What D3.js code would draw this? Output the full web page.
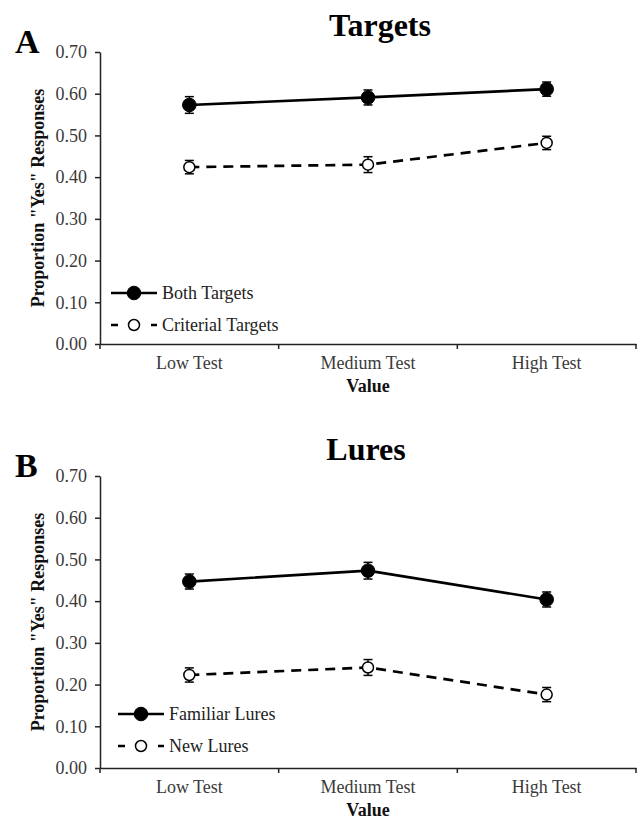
<!DOCTYPE html>
<html>
<head>
<meta charset="utf-8">
<script src="https://cdn.jsdelivr.net/npm/d3@7"></script>
<style>
  body { margin: 0; background: #fff; }
  svg { display: block; }
</style>
</head>
<body>
<div id="chart"></div>
<script>
const categories = ['Low Test', 'Medium Test', 'High Test'];
const yTicks = [0, 0.1, 0.2, 0.3, 0.4, 0.5, 0.6, 0.7];

// panel A
const bothTargets = [0.573, 0.591, 0.611];
const bothTargetsErr = [0.020, 0.018, 0.017];
const criterialTargets = [0.424, 0.430, 0.482];
const criterialTargetsErr = [0.016, 0.019, 0.016];

// panel B
const familiarLures = [0.447, 0.473, 0.404];
const familiarLuresErr = [0.018, 0.020, 0.018];
const newLures = [0.223, 0.241, 0.176];
const newLuresErr = [0.017, 0.019, 0.017];

const width = 643, height = 824;
const font = '"Liberation Serif", "Times New Roman", serif';

const svg = d3.select('#chart')
  .append('svg')
  .attr('width', width)
  .attr('height', height);

const x = d3.scaleBand()
  .domain(categories)
  .range([100, 636]);

const y = d3.scaleLinear()
  .domain([0, 0.7])
  .range([344, 52]);

function drawPanel(offsetY, letter, title, titleX, series) {
  const g = svg.append('g').attr('transform', `translate(0,${offsetY})`);

  // panel letter + title
  g.append('text')
    .text(letter)
    .attr('x', 15).attr('y', 53)
    .attr('font-family', font).attr('font-weight', 'bold')
    .attr('font-size', 34);

  g.append('text')
    .text(title)
    .attr('x', titleX).attr('y', 36)
    .attr('text-anchor', 'middle')
    .attr('font-family', font).attr('font-weight', 'bold')
    .attr('font-size', 32);

  // y axis
  const yAxis = g.append('g')
    .attr('transform', `translate(${x.range()[0]},0)`)
    .call(d3.axisLeft(y).tickValues(yTicks).tickFormat(d3.format('.2f')).tickSize(5).tickSizeOuter(0));
  yAxis.select('.domain').attr('stroke', '#222').attr('stroke-width', 1.5);
  yAxis.selectAll('.tick line').attr('stroke', '#222').attr('stroke-width', 1.5);
  yAxis.selectAll('.tick text')
    .attr('font-family', font).attr('font-size', 18).attr('fill', '#3a3a3a')
    .attr('x', -13);

  // x axis: labels at band centres, tick marks at band edges
  const xAxis = g.append('g')
    .attr('transform', `translate(0,${y(0)})`)
    .call(d3.axisBottom(x).tickSize(0).tickSizeOuter(0));
  xAxis.select('.domain').attr('stroke', '#222').attr('stroke-width', 1.5);
  xAxis.selectAll('.tick text')
    .attr('font-family', font).attr('font-size', 18).attr('fill', '#3a3a3a')
    .attr('y', 25).attr('dy', 0);

  const edges = categories.map(c => x(c)).concat([x.range()[1]]);
  xAxis.selectAll('.edge')
    .data(edges)
    .enter()
    .append('line')
    .attr('x1', d => d).attr('x2', d => d)
    .attr('y1', 0).attr('y2', 5)
    .attr('stroke', '#222').attr('stroke-width', 1.5);

  // axis titles
  g.append('text')
    .text('Proportion "Yes" Responses')
    .attr('transform', `translate(44,${(y(0) + y(0.7)) / 2}) rotate(-90)`)
    .attr('text-anchor', 'middle')
    .attr('font-family', font).attr('font-weight', 'bold')
    .attr('font-size', 18).attr('fill', '#111');

  g.append('text')
    .text('Value')
    .attr('x', 368).attr('y', y(0) + 48)
    .attr('text-anchor', 'middle')
    .attr('font-family', font).attr('font-weight', 'bold')
    .attr('font-size', 18).attr('fill', '#111');

  const cx = c => x(c) + x.bandwidth() / 2;

  series.forEach(s => {
    const pts = categories.map((c, i) => ({ c, v: s.values[i], e: s.err[i] }));

    // error bars
    const eb = g.append('g');
    eb.selectAll('line.v')
      .data(pts).enter().append('line')
      .attr('x1', d => cx(d.c)).attr('x2', d => cx(d.c))
      .attr('y1', d => y(d.v + d.e)).attr('y2', d => y(d.v - d.e))
      .attr('stroke', '#000').attr('stroke-width', 1.5);
    [1, -1].forEach(sign => {
      eb.selectAll(null)
        .data(pts).enter().append('line')
        .attr('x1', d => cx(d.c) - 4.5).attr('x2', d => cx(d.c) + 4.5)
        .attr('y1', d => y(d.v + sign * d.e)).attr('y2', d => y(d.v + sign * d.e))
        .attr('stroke', '#000').attr('stroke-width', 1.5);
    });

    const line = d3.line().x(d => cx(d.c)).y(d => y(d.v));
    g.append('path')
      .datum(pts)
      .attr('d', line)
      .attr('fill', 'none')
      .attr('stroke', '#000')
      .attr('stroke-width', 2.7)
      .attr('stroke-dasharray', s.dashed ? '10,7' : null);

    g.selectAll(null)
      .data(pts).enter().append('circle')
      .attr('cx', d => cx(d.c)).attr('cy', d => y(d.v))
      .attr('r', s.dashed ? 5.5 : 6.8)
      .attr('fill', s.dashed ? '#fff' : '#000')
      .attr('stroke', '#000').attr('stroke-width', s.dashed ? 1.5 : 1);

    // legend entry
    const lg = g.append('g').attr('transform', `translate(${s.legendX},${s.legendY})`);
    lg.append('line')
      .attr('x1', 0).attr('x2', 46).attr('y1', 0).attr('y2', 0)
      .attr('stroke', '#000').attr('stroke-width', 2.7)
      .attr('stroke-dasharray', s.dashed ? '7,33,6' : null);
    lg.append('circle')
      .attr('cx', 23).attr('cy', 0)
      .attr('r', s.dashed ? 5.5 : 6.8)
      .attr('fill', s.dashed ? '#fff' : '#000')
      .attr('stroke', '#000').attr('stroke-width', s.dashed ? 1.5 : 1);
    lg.append('text')
      .text(s.name)
      .attr('x', 51).attr('y', 0).attr('dy', '0.35em')
      .attr('font-family', font).attr('font-size', 18).attr('fill', '#222');
  });
}

drawPanel(0, 'A', 'Targets', 380, [
  { name: 'Both Targets', values: bothTargets, err: bothTargetsErr, dashed: false, legendX: 111, legendY: 293 },
  { name: 'Criterial Targets', values: criterialTargets, err: criterialTargetsErr, dashed: true, legendX: 111, legendY: 325 }
]);

drawPanel(424, 'B', 'Lures', 366, [
  { name: 'Familiar Lures', values: familiarLures, err: familiarLuresErr, dashed: false, legendX: 118, legendY: 290 },
  { name: 'New Lures', values: newLures, err: newLuresErr, dashed: true, legendX: 118, legendY: 322 }
]);
</script>
</body>
</html>
